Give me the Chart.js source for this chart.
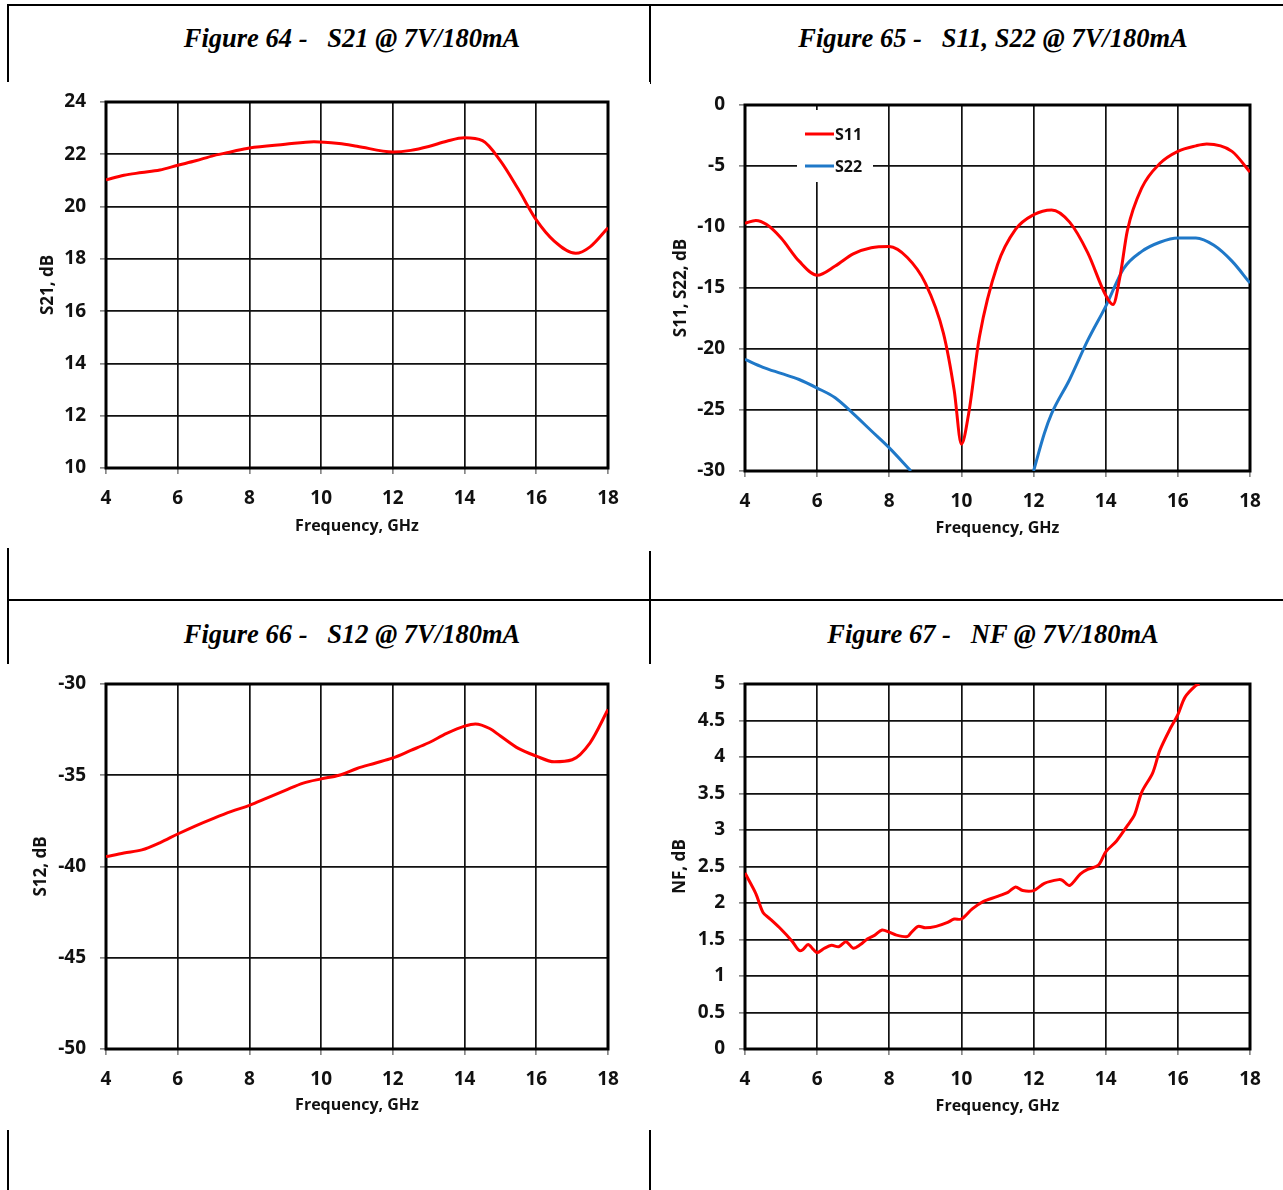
<!DOCTYPE html>
<html>
<head>
<meta charset="utf-8">
<script src="https://cdn.jsdelivr.net/npm/chart.js@4.4.1/dist/chart.umd.min.js"></script>
<style>
  body { margin: 0; background: #fff; width: 1283px; height: 1190px; position: relative; overflow: hidden; }
  .rule { position: absolute; background: #000; }
  .fig-title { position: absolute; width: 500px; text-align: center; font: italic bold 26.5px "Liberation Serif", "Times New Roman", serif; white-space: pre; line-height: 30px; color: #000; }
  canvas { position: absolute; background: #fff; }
</style>
</head>
<body>
<!-- table rules -->
<div class="rule" style="left:7px;top:4px;width:1276px;height:2px"></div>
<div class="rule" style="left:7px;top:4px;width:2px;height:1186px"></div>
<div class="rule" style="left:649px;top:4px;width:2px;height:1186px"></div>
<div class="rule" style="left:7px;top:599px;width:1276px;height:2px"></div>

<div class="fig-title" style="left:102px;top:23px">Figure 64 -   S21 @ 7V/180mA</div>
<div class="fig-title" style="left:743px;top:23px">Figure 65 -   S11, S22 @ 7V/180mA</div>
<div class="fig-title" style="left:102px;top:619px">Figure 66 -   S12 @ 7V/180mA</div>
<div class="fig-title" style="left:743px;top:619px">Figure 67 -   NF @ 7V/180mA</div>

<canvas id="fig64" width="645" height="466" style="left:5px;top:82px"></canvas>
<canvas id="fig65" width="634" height="467" style="left:649px;top:84px"></canvas>
<canvas id="fig66" width="645" height="466" style="left:5px;top:664px"></canvas>
<canvas id="fig67" width="634" height="466" style="left:649px;top:664px"></canvas>

<script>
// frequency axis (GHz)
const freqRange = [4, 18, 2];

// Figure 64 - S21
const s21Range = [10, 24, 2];
const s21Freq = [4, 4.5, 5, 5.5, 6, 6.5, 7, 7.5, 8, 9, 9.8, 10.5, 11, 12, 12.5, 13, 13.5, 14, 14.5, 15, 15.5, 16, 16.5, 17.1, 17.5, 18];
const s21Vals = [21.02, 21.2, 21.3, 21.4, 21.58, 21.75, 21.95, 22.1, 22.24, 22.38, 22.48, 22.41, 22.31, 22.09, 22.15, 22.3, 22.5, 22.63, 22.52, 21.75, 20.66, 19.49, 18.68, 18.21, 18.46, 19.19];

// Figure 65 - S11, S22
const s1122Range = [-30, 0, 5];
const s11Freq = [4, 4.3, 4.6, 5, 5.5, 6, 6.5, 7, 7.5, 8, 8.5, 9, 9.5, 9.8, 10, 10.2, 10.5, 11, 11.5, 12, 12.5, 13, 13.5, 14, 14.2, 14.4, 14.6, 15, 15.5, 16, 16.5, 16.8, 17.5, 18];
const s11Vals = [-9.69, -9.47, -9.8, -10.9, -12.8, -13.95, -13.2, -12.2, -11.7, -11.6, -12.5, -14.6, -18.7, -23.4, -27.8, -25.3, -19.0, -13.1, -10.2, -9.0, -8.6, -9.6, -12.1, -15.6, -16.36, -14.0, -10.3, -6.8, -4.8, -3.8, -3.35, -3.2, -3.8, -5.5];
const s22Freq = [4, 4.5, 5, 5.5, 6, 6.5, 7, 7.5, 8, 8.6, 10, 12, 12.3, 12.5, 13, 13.5, 14, 14.5, 15, 15.5, 16, 16.5, 17, 17.5, 18];
const s22Vals = [-20.85, -21.5, -22.0, -22.5, -23.2, -24.0, -25.3, -26.7, -28.1, -30, null, -30, -26.9, -25.3, -22.5, -19.3, -16.5, -13.4, -12.0, -11.25, -10.9, -10.9, -11.5, -12.8, -14.6];

// Figure 66 - S12
const s12Range = [-50, -30, 5];
const s12Freq = [4, 4.5, 5, 5.5, 6, 6.5, 7, 7.5, 8, 8.5, 9, 9.5, 10, 10.5, 11, 11.5, 12, 12.5, 13, 13.5, 14, 14.3, 14.7, 15, 15.5, 16, 16.5, 17, 17.5, 18];
const s12Vals = [-39.46, -39.26, -39.09, -38.7, -38.22, -37.77, -37.36, -36.98, -36.65, -36.24, -35.83, -35.43, -35.2, -35.0, -34.63, -34.34, -34.05, -33.64, -33.22, -32.71, -32.31, -32.19, -32.44, -32.85, -33.53, -33.95, -34.26, -34.15, -33.22, -31.4];

// Figure 67 - NF
const nfRange = [0, 5, 0.5];
const nfFreq = [4, 4.3, 4.5, 4.7, 5, 5.3, 5.5, 5.6, 5.75, 5.9, 6, 6.2, 6.4, 6.6, 6.8, 7, 7.2, 7.4, 7.6, 7.8, 8, 8.2, 8.5, 8.6, 8.8, 9, 9.3, 9.6, 9.8, 10, 10.3, 10.6, 11, 11.3, 11.5, 11.7, 12, 12.3, 12.7, 12.8, 13, 13.3, 13.5, 13.8, 14, 14.3, 14.6, 14.8, 15, 15.3, 15.5, 15.8, 16, 16.2, 16.5, 16.6];
const nfVals = [2.41, 2.13, 1.87, 1.78, 1.64, 1.48, 1.35, 1.36, 1.43, 1.36, 1.32, 1.38, 1.42, 1.4, 1.47, 1.38, 1.43, 1.51, 1.56, 1.63, 1.6, 1.56, 1.54, 1.59, 1.68, 1.66, 1.68, 1.73, 1.78, 1.78, 1.92, 2.02, 2.09, 2.15, 2.22, 2.17, 2.17, 2.27, 2.32, 2.31, 2.24, 2.4, 2.46, 2.52, 2.7, 2.85, 3.06, 3.21, 3.52, 3.78, 4.09, 4.4, 4.58, 4.82, 4.98, 5.0];

Chart.defaults.font.family = '"Open Sans", "DejaVu Sans", sans-serif';
Chart.defaults.font.weight = 'bold';
Chart.defaults.color = '#111';

function pts(xs, ys) {
  return xs.map((x, i) => ({ x: x, y: ys[i] }));
}

// thick frame around the plot area
const frame = {
  id: 'frame',
  beforeDatasetsDraw(chart) {
    const { ctx, chartArea: a } = chart;
    ctx.save();
    ctx.strokeStyle = '#000';
    ctx.lineWidth = 3;
    ctx.strokeRect(a.left, a.top, a.right - a.left, a.bottom - a.top);
    ctx.restore();
  }
};

// legend drawn inside the plot, on a white patch
const insideLegend = {
  id: 'insideLegend',
  beforeDatasetsDraw(chart, args, opts) {
    if (!opts.show) return;
    const { ctx, chartArea: a } = chart;
    const x0 = a.left + opts.x, y0 = a.top + opts.y;
    ctx.save();
    ctx.fillStyle = '#fff';
    ctx.fillRect(x0, y0, 76, 72);
    chart.data.datasets.forEach((ds, i) => {
      const y = y0 + 24 + i * 32;
      ctx.strokeStyle = ds.borderColor;
      ctx.lineWidth = 3;
      ctx.beginPath();
      ctx.moveTo(x0 + 8, y);
      ctx.lineTo(x0 + 37, y);
      ctx.stroke();
      ctx.fillStyle = '#111';
      ctx.font = 'bold 16px "Open Sans", sans-serif';
      ctx.textBaseline = 'middle';
      ctx.fillText(ds.label, x0 + 38, y + 1);
    });
    ctx.restore();
  }
};

function makeChart(id, datasets, yRange, yTitle, box) {
  const canvas = document.getElementById(id);
  return new Chart(canvas, {
    type: 'line',
    data: { datasets: datasets },
    plugins: [frame, insideLegend],
    options: {
      responsive: false,
      animation: false,
      devicePixelRatio: 1,
      layout: { padding: { left: 0, top: box.top, right: canvas.width - box.right, bottom: 0 } },
      elements: { point: { radius: 0 }, line: { borderWidth: 3, cubicInterpolationMode: 'monotone' } },
      plugins: {
        legend: { display: false },
        tooltip: { enabled: false },
        insideLegend: box.legend || { show: false }
      },
      scales: {
        x: {
          type: 'linear',
          min: freqRange[0], max: freqRange[1],
          ticks: { stepSize: freqRange[2], padding: 13, font: { size: 19, weight: 'bold' } },
          grid: { color: '#111', lineWidth: 1.7, tickLength: 6, tickColor: '#888' },
          border: { display: false },
          title: { display: true, text: 'Frequency, GHz', font: { size: 16, weight: 'bold' }, padding: { top: 0, bottom: box.xTitlePad } },
          afterFit: s => {
            s.height = canvas.height - box.bottom;
            s.paddingLeft = 0; s.paddingRight = 0;
          }
        },
        y: {
          min: yRange[0], max: yRange[1],
          ticks: { stepSize: yRange[2], padding: 14, font: { size: 19, weight: 'bold' }, callback: v => String(v) },
          grid: { color: '#111', lineWidth: 1.7, tickLength: 6, tickColor: '#888' },
          border: { display: false },
          title: { display: true, text: yTitle, font: { size: 17, weight: 'bold' }, padding: { top: box.yTitlePad, bottom: 0 } },
          afterFit: s => {
            s.width = box.left;
            s.paddingTop = 0; s.paddingBottom = 0;
          }
        }
      }
    }
  });
}

makeChart('fig64', [
  { label: 'S21', data: pts(s21Freq, s21Vals), borderColor: '#ff0000' }
], s21Range, 'S21, dB', { left: 101, top: 20, right: 603, bottom: 386, xTitlePad: 12.4, yTitlePad: 33.3 });

makeChart('fig65', [
  { label: 'S11', data: pts(s11Freq, s11Vals), borderColor: '#ff0000' },
  { label: 'S22', data: pts(s22Freq, s22Vals), borderColor: '#1f78c8', spanGaps: false }
], s1122Range, 'S11, S22, dB', { left: 96, top: 21, right: 601, bottom: 387, xTitlePad: 13.4, yTitlePad: 21.8,
  legend: { show: true, x: 52, y: 5 } });

makeChart('fig66', [
  { label: 'S12', data: pts(s12Freq, s12Vals), borderColor: '#ff0000' }
], s12Range, 'S12, dB', { left: 101, top: 20, right: 603, bottom: 385, xTitlePad: 15.4, yTitlePad: 25.8 });

makeChart('fig67', [
  { label: 'NF', data: pts(nfFreq, nfVals), borderColor: '#ff0000', cubicInterpolationMode: 'default', tension: 0.3 }
], nfRange, 'NF, dB', { left: 96, top: 20, right: 601, bottom: 385, xTitlePad: 14.4, yTitlePad: 20.8 });
</script>
</body>
</html>
